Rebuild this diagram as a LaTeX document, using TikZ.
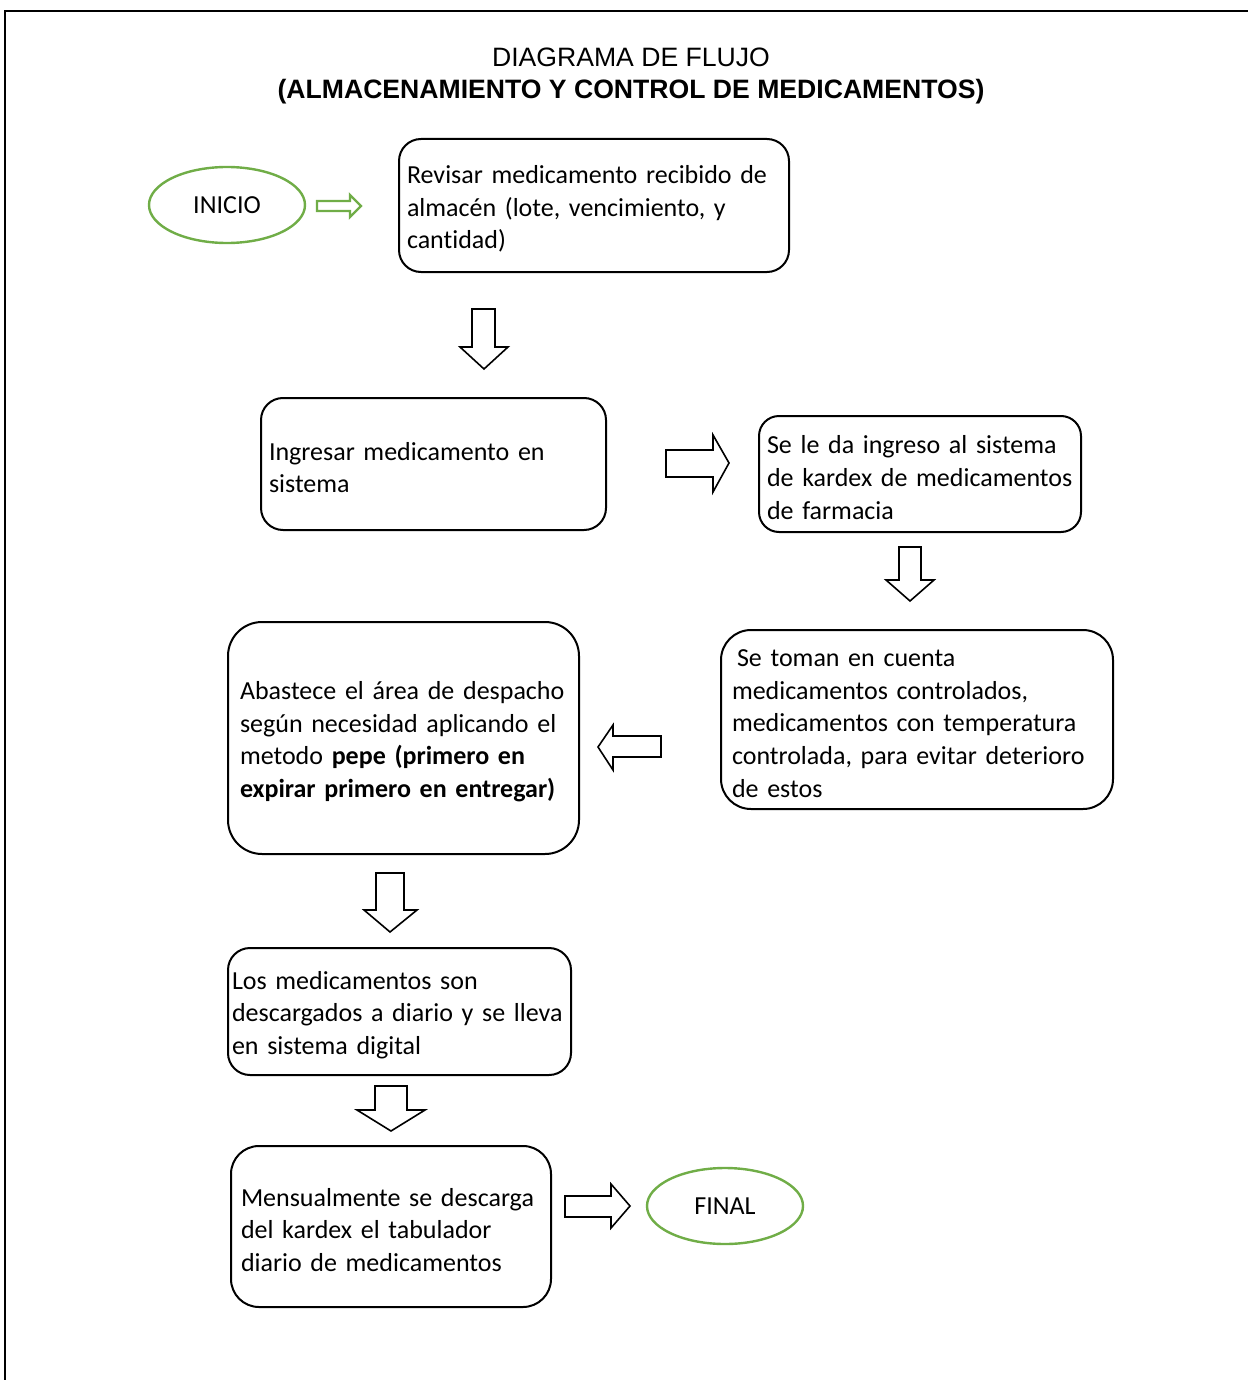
\documentclass[tikz,border=0pt]{standalone}
\usepackage{fontspec}
\setmainfont{Carlito}[Ligatures=NoCommon]
\newfontfamily\arialfont{Liberation Sans}
\usetikzlibrary{shapes.geometric}
\definecolor{termgreen}{RGB}{112,173,71}
\hyphenpenalty=10000
\exhyphenpenalty=10000
% extra room above the first line of a step box
\newcommand{\firstline}{\rule{0pt}{12.5pt}}
\begin{document}
\begin{tikzpicture}[x=0.5pt,y=-0.5pt,
  stepbox/.style={draw,line width=1pt,rounded corners=11pt,align=left,
    inner xsep=4pt,inner ysep=2pt,
    font=\fontsize{13pt}{16.3pt}\selectfont},
  terminal/.style={draw=termgreen,line width=1.2pt,ellipse,
    minimum width=78pt,minimum height=38pt,inner sep=0pt,
    font=\fontsize{13pt}{15pt}\selectfont},
  blockarrow/.style={draw,line width=0.8pt,fill=white,line join=miter},
  greenarrow/.style={draw=termgreen,line width=1.2pt,fill=white,line join=miter}]
\useasboundingbox (0,0) rectangle (1248,1380);
% frame
\draw[line width=1pt] (5,1380) -- (5,11) -- (1248,11);
% title
\node[font=\arialfont\fontsize{13.3pt}{16pt}\selectfont,align=center] (title) at (631,76)
  {DIAGRAMA DE FLUJO\\\bfseries (ALMACENAMIENTO Y CONTROL DE MEDICAMENTOS)};
% terminals
\node[terminal] (inicio) at (227,205) {INICIO};
\node[terminal] (final) at (725,1206) {FINAL};
% process steps
\node[stepbox,minimum width=195pt,minimum height=66.5pt,text width=187pt] (s1) at (594,205.5)
  {\firstline Revisar medicamento recibido de\\almacén (lote, vencimiento, y\\cantidad)};
\node[stepbox,minimum width=172.5pt,minimum height=66pt,text width=164.5pt] (s2) at (433.5,464)
  {\firstline Ingresar medicamento en\\sistema};
\node[stepbox,minimum width=161pt,minimum height=58pt,text width=153pt,rounded corners=10pt] (s3) at (920,474)
  {\firstline Se le da ingreso al sistema\\de kardex de medicamentos\\de farmacia};
\node[stepbox,minimum width=196pt,minimum height=89.5pt,text width=185pt,inner xsep=5.5pt,rounded corners=15pt] (s4) at (917,719.5)
  {\firstline\hspace*{2.5pt}Se toman en cuenta\\medicamentos controlados,\\medicamentos con temperatura\\controlada, para evitar deterioro\\de estos};
\node[stepbox,minimum width=175.5pt,minimum height=116pt,text width=163.5pt,inner xsep=6pt,rounded corners=17pt] (s5) at (403.5,738)
  {\firstline Abastece el área de despacho\\según necesidad aplicando el\\metodo \textbf{pepe (primero en}\\\textbf{expirar primero en entregar)}};
\node[stepbox,minimum width=171.5pt,minimum height=63.5pt,text width=167.5pt,inner xsep=2pt] (s6) at (399.5,1011.5)
  {\firstline Los medicamentos son\\descargados a diario y se lleva\\en sistema digital};
\node[stepbox,minimum width=160pt,minimum height=80.5pt,text width=150pt,inner xsep=5pt,rounded corners=14pt] (s7) at (391,1226.5)
  {\firstline Mensualmente se descarga\\del kardex el tabulador\\diario de medicamentos};
% block arrows between steps
\draw[greenarrow] (317,201) -- (350,201) -- (350,195) -- (361,206) -- (350,217) -- (350,211) -- (317,211) -- cycle;
\draw[blockarrow] (472,309) -- (495,309) -- (495,347) -- (508,347) -- (484,369) -- (460,347) -- (472,347) -- cycle;
\draw[blockarrow] (666,450) -- (713,450) -- (713,435) -- (729,463) -- (713,492) -- (713,477) -- (666,477) -- cycle;
\draw[blockarrow] (899,547) -- (921,547) -- (921,580) -- (934,580) -- (910,601) -- (886,580) -- (899,580) -- cycle;
\draw[blockarrow] (661,736) -- (613,736) -- (613,725) -- (598,747) -- (613,770) -- (613,757) -- (661,757) -- cycle;
\draw[blockarrow] (376,873) -- (404,873) -- (404,910) -- (417,910) -- (390,932) -- (364,910) -- (376,910) -- cycle;
\draw[blockarrow] (375,1086) -- (407,1086) -- (407,1110) -- (425,1110) -- (391,1131) -- (357,1110) -- (375,1110) -- cycle;
\draw[blockarrow] (565,1196) -- (611,1196) -- (611,1184) -- (630,1206) -- (611,1228) -- (611,1217) -- (565,1217) -- cycle;
\end{tikzpicture}
\end{document}
